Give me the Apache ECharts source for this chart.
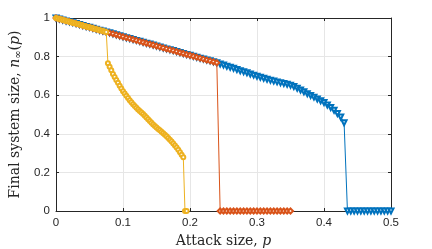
<!DOCTYPE html>
<html>
<head>
<meta charset="utf-8">
<script src="https://cdn.jsdelivr.net/npm/echarts@6/dist/echarts.min.js"></script>
<style>html,body{margin:0;padding:0;background:#fff}#c{width:432px;height:249px}</style>
</head>
<body>
<div id="c"></div>
<script>
// Attack size p and final system size n for each model
var blueData = [
[0,1.000],[0.005,0.995],[0.01,0.990],[0.015,0.985],[0.02,0.981],[0.025,0.976],[0.03,0.971],[0.035,0.966],[0.04,0.961],[0.045,0.956],
[0.05,0.952],[0.055,0.947],[0.06,0.942],[0.065,0.937],[0.07,0.932],[0.075,0.927],[0.08,0.923],[0.085,0.918],[0.09,0.913],[0.095,0.908],
[0.1,0.903],[0.105,0.898],[0.11,0.894],[0.115,0.889],[0.12,0.884],[0.125,0.879],[0.13,0.874],[0.135,0.869],[0.14,0.865],[0.145,0.860],
[0.15,0.855],[0.155,0.850],[0.16,0.845],[0.165,0.840],[0.17,0.836],[0.175,0.831],[0.18,0.826],[0.185,0.821],[0.19,0.816],[0.195,0.811],
[0.2,0.807],[0.205,0.802],[0.21,0.797],[0.215,0.792],[0.22,0.787],[0.225,0.782],[0.23,0.778],[0.235,0.773],[0.24,0.768],
[0.245,0.762],[0.25,0.756],[0.255,0.750],[0.26,0.745],[0.265,0.739],[0.27,0.733],[0.275,0.727],[0.28,0.722],[0.285,0.716],[0.29,0.710],
[0.295,0.704],[0.3,0.698],[0.305,0.693],[0.31,0.688],[0.315,0.683],[0.32,0.678],[0.325,0.673],[0.33,0.669],[0.335,0.665],[0.34,0.661],
[0.345,0.657],[0.35,0.652],[0.355,0.645],[0.36,0.636],[0.365,0.627],[0.37,0.618],[0.375,0.608],[0.38,0.599],[0.385,0.590],[0.39,0.580],
[0.395,0.571],[0.4,0.562],[0.405,0.549],[0.41,0.536],[0.415,0.522],[0.42,0.505],[0.425,0.487],[0.43,0.457],
[0.435,0],[0.44,0],[0.445,0],[0.45,0],[0.455,0],[0.46,0],[0.465,0],[0.47,0],[0.475,0],[0.48,0],[0.485,0],[0.49,0],[0.495,0],[0.5,0]
];
var orangeData = [
[0,1.000],[0.005,0.995],[0.01,0.990],[0.015,0.985],[0.02,0.981],[0.025,0.976],[0.03,0.971],[0.035,0.966],[0.04,0.961],[0.045,0.956],
[0.05,0.952],[0.055,0.947],[0.06,0.942],[0.065,0.937],[0.07,0.932],[0.075,0.927],[0.08,0.923],[0.085,0.918],[0.09,0.913],[0.095,0.908],
[0.1,0.903],[0.105,0.898],[0.11,0.894],[0.115,0.889],[0.12,0.884],[0.125,0.879],[0.13,0.874],[0.135,0.869],[0.14,0.865],[0.145,0.860],
[0.15,0.855],[0.155,0.850],[0.16,0.845],[0.165,0.840],[0.17,0.836],[0.175,0.831],[0.18,0.826],[0.185,0.821],[0.19,0.816],[0.195,0.811],
[0.2,0.807],[0.205,0.802],[0.21,0.797],[0.215,0.792],[0.22,0.787],[0.225,0.782],[0.23,0.778],[0.235,0.773],[0.24,0.768],
[0.245,0],[0.25,0],[0.255,0],[0.26,0],[0.265,0],[0.27,0],[0.275,0],[0.28,0],[0.285,0],[0.29,0],[0.295,0],
[0.3,0],[0.305,0],[0.31,0],[0.315,0],[0.32,0],[0.325,0],[0.33,0],[0.335,0],[0.34,0],[0.345,0],[0.35,0]
];
var yellowData = [
[0,1.000],[0.0025,0.998],[0.005,0.995],[0.0075,0.993],[0.01,0.990],[0.0125,0.988],[0.015,0.985],[0.0175,0.983],[0.02,0.981],[0.0225,0.978],
[0.025,0.976],[0.0275,0.973],[0.03,0.971],[0.0325,0.969],[0.035,0.966],[0.0375,0.964],[0.04,0.961],[0.0425,0.959],[0.045,0.956],[0.0475,0.954],
[0.05,0.952],[0.0525,0.949],[0.055,0.947],[0.0575,0.944],[0.06,0.942],[0.0625,0.940],[0.065,0.937],[0.0675,0.935],[0.07,0.932],[0.0725,0.930],
[0.075,0.927],
[0.0775,0.765],[0.08,0.747],[0.0825,0.729],[0.085,0.710],[0.0875,0.694],[0.09,0.679],[0.0925,0.664],[0.095,0.649],[0.0975,0.635],
[0.1,0.621],[0.1025,0.609],[0.105,0.597],[0.1075,0.585],[0.11,0.574],[0.1125,0.563],[0.115,0.553],[0.1175,0.544],[0.12,0.535],[0.1225,0.526],
[0.125,0.518],[0.1275,0.510],[0.13,0.502],[0.1325,0.493],[0.135,0.484],[0.1375,0.475],[0.14,0.466],[0.1425,0.457],[0.145,0.448],[0.1475,0.440],
[0.15,0.433],[0.1525,0.425],[0.155,0.418],[0.1575,0.411],[0.16,0.403],[0.1625,0.395],[0.165,0.387],[0.1675,0.378],[0.17,0.369],[0.1725,0.360],
[0.175,0.350],[0.1775,0.340],[0.18,0.329],[0.1825,0.317],[0.185,0.304],[0.1875,0.291],[0.19,0.278],
[0.1925,0],[0.195,0]
];
var xTicks = ['0','0.1','0.2','0.3','0.4','0.5'];
var yTicks = ['0','0.2','0.4','0.6','0.8','1'];

var axisColor = '#262626';
var tickFont = {color: axisColor, fontSize: 11.5, fontFamily: 'Liberation Sans, Arial, sans-serif'};
var serif = 'DejaVu Serif, serif';

var chart = echarts.init(document.getElementById('c'), null, {renderer: 'canvas'});
chart.setOption({
  animation: false,
  backgroundColor: '#fff',
  grid: {left: 56, right: 41, top: 18, bottom: 38, containLabel: false, outerBoundsMode: 'none', show: false},
  xAxis: [{
    type: 'value', min: 0, max: 0.5, interval: 0.1,
    axisLine: {show: true, onZero: false, lineStyle: {color: axisColor, width: 1}},
    axisTick: {show: true, inside: true, length: 3, lineStyle: {color: axisColor}},
    axisLabel: Object.assign({margin: 6, formatter: function (v) { return xTicks[Math.round(v * 10)]; }}, tickFont),
    splitLine: {show: true, lineStyle: {color: '#e6e6e6', width: 1}},
    name: '{a|Attack size, }{i|p}',
    nameLocation: 'middle', nameGap: 21,
    nameTextStyle: {rich: {
      a: {fontFamily: serif, fontSize: 14, color: axisColor},
      i: {fontFamily: serif, fontSize: 14, fontStyle: 'italic', color: axisColor}
    }}
  }, {
    type: 'value', min: 0, max: 0.5, interval: 0.1, position: 'top',
    axisLine: {show: true, onZero: false, lineStyle: {color: axisColor, width: 1}},
    axisTick: {show: true, inside: true, length: 3, lineStyle: {color: axisColor}},
    axisLabel: {show: false}, splitLine: {show: false}
  }],
  yAxis: [{
    type: 'value', min: 0, max: 1, interval: 0.2,
    axisLine: {show: true, onZero: false, lineStyle: {color: axisColor, width: 1}},
    axisTick: {show: true, inside: true, length: 3, lineStyle: {color: axisColor}},
    axisLabel: Object.assign({margin: 6, formatter: function (v) { return yTicks[Math.round(v * 5)]; }}, tickFont),
    splitLine: {show: true, lineStyle: {color: '#e6e6e6', width: 1}},
    name: '{a|Final system size, }{i|n}{s|∞}{a|(}{i|p}{a|)}',
    nameLocation: 'middle', nameGap: 29, nameRotate: 90,
    nameTextStyle: {rich: {
      a: {fontFamily: serif, fontSize: 14, color: axisColor},
      i: {fontFamily: serif, fontSize: 14, fontStyle: 'italic', color: axisColor},
      s: {fontFamily: serif, fontSize: 10, color: axisColor, verticalAlign: 'bottom', padding: [6, 0, 0, 0]}
    }}
  }, {
    type: 'value', min: 0, max: 1, interval: 0.2, position: 'right',
    axisLine: {show: true, onZero: false, lineStyle: {color: axisColor, width: 1}},
    axisTick: {show: true, inside: true, length: 3, lineStyle: {color: axisColor}},
    axisLabel: {show: false}, splitLine: {show: false}
  }],
  series: [{
    type: 'line', data: blueData, xAxisIndex: 0, yAxisIndex: 0,
    lineStyle: {color: '#0072BD', width: 1},
    itemStyle: {color: '#0072BD', borderColor: '#0072BD', borderWidth: 1},
    symbol: 'emptyTriangle', symbolRotate: 180, symbolSize: 5, z: 2
  }, {
    type: 'line', data: orangeData, xAxisIndex: 0, yAxisIndex: 0,
    lineStyle: {color: '#D95319', width: 1},
    itemStyle: {color: '#D95319', borderColor: '#D95319', borderWidth: 1},
    symbol: 'emptyDiamond', symbolSize: 5, z: 3
  }, {
    type: 'line', data: yellowData, xAxisIndex: 0, yAxisIndex: 0,
    lineStyle: {color: '#EDB120', width: 1},
    itemStyle: {color: '#EDB120', borderColor: '#EDB120', borderWidth: 1},
    symbol: 'emptyCircle', symbolSize: 4, z: 4
  }]
});
</script>
</body>
</html>
